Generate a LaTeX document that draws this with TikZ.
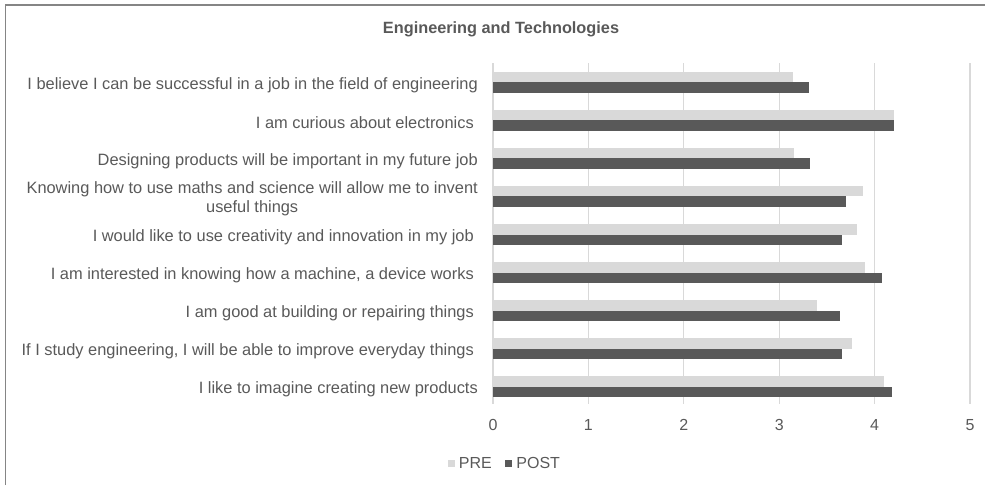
\documentclass[tikz,border=0pt]{standalone}
\usepackage{fontspec}
\setmainfont{Liberation Sans}
\usetikzlibrary{positioning}
\definecolor{pregray}{HTML}{D9D9D9}
\definecolor{postgray}{HTML}{595959}
\definecolor{gridgray}{HTML}{D9D9D9}
\definecolor{txtgray}{HTML}{595959}
\definecolor{framegray}{HTML}{858585}
\begin{document}
\begin{tikzpicture}[x=1pt,y=-1pt,
  lbl/.style={anchor=east,inner sep=0pt,text=txtgray,font=\fontsize{16.4}{19}\selectfont,align=center},
  tick/.style={inner sep=0pt,text=txtgray,font=\fontsize{16}{19}\selectfont},
  legsq/.style={inner sep=0pt,minimum size=7pt},
  pre/.style={fill=pregray},
  post/.style={fill=postgray}]
\useasboundingbox (0,0) rectangle (985,485);
\draw[framegray,line width=1.5pt] (5.5,485) -- (5.5,5) -- (985,5);
\node[text=txtgray,font=\fontsize{16.3}{19}\selectfont\bfseries] (title) at (501,29) {Engineering and Technologies};
% grid
\begin{scope}[shift={(493,0)},x=95.4pt]
\draw[gridgray,line width=1.2pt] (0,63) -- (0,404);
\draw[gridgray,line width=1.2pt] (1,63) -- (1,404);
\draw[gridgray,line width=1.2pt] (2,63) -- (2,404);
\draw[gridgray,line width=1.2pt] (3,63) -- (3,404);
\draw[gridgray,line width=1.2pt] (4,63) -- (4,404);
\draw[gridgray,line width=1.2pt] (5,63) -- (5,404);
\node[tick] (t0) at (0,425) {0};
\node[tick] (t1) at (1,425) {1};
\node[tick] (t2) at (2,425) {2};
\node[tick] (t3) at (3,425) {3};
\node[tick] (t4) at (4,425) {4};
\node[tick] (t5) at (5,425) {5};
% bars
\fill[pre] (0,71.8) rectangle (3.14,82.3);
\fill[post] (0,82.3) rectangle (3.31,92.8);
\fill[pre] (0,109.85) rectangle (4.20,120.35);
\fill[post] (0,120.35) rectangle (4.20,130.85);
\fill[pre] (0,147.9) rectangle (3.16,158.4);
\fill[post] (0,158.4) rectangle (3.32,168.9);
\fill[pre] (0,185.95) rectangle (3.88,196.45);
\fill[post] (0,196.45) rectangle (3.70,206.95);
\fill[pre] (0,224) rectangle (3.82,234.5);
\fill[post] (0,234.5) rectangle (3.66,245);
\fill[pre] (0,262.05) rectangle (3.90,272.55);
\fill[post] (0,272.55) rectangle (4.08,283.05);
\fill[pre] (0,300.1) rectangle (3.40,310.6);
\fill[post] (0,310.6) rectangle (3.64,321.1);
\fill[pre] (0,338.15) rectangle (3.76,348.65);
\fill[post] (0,348.65) rectangle (3.66,359.15);
\fill[pre] (0,376.2) rectangle (4.10,386.7);
\fill[post] (0,386.7) rectangle (4.18,397.2);
\end{scope}
% labels
\node[lbl] (q1) at (478,84.8) {I believe I can be successful in a job in the field of engineering};
\node[lbl] (q2) at (474,122.85) {I am curious about electronics};
\node[lbl] (q3) at (478,160.9) {Designing products will be important in my future job};
\node[lbl] (q4) at (478,198.45) {Knowing how to use maths and science will allow me to invent\\useful things};
\node[lbl] (q5) at (474,237) {I would like to use creativity and innovation in my job};
\node[lbl] (q6) at (474,275.05) {I am interested in knowing how a machine, a device works};
\node[lbl] (q7) at (474,313.1) {I am good at building or repairing things};
\node[lbl] (q8) at (474,351.15) {If I study engineering, I will be able to improve everyday things};
\node[lbl] (q9) at (478,389.2) {I like to imagine creating new products};
% legend
\node[legsq,pre] (prekey) at (451,463) {};
\node[tick,right=4pt of prekey] (pretext) {PRE};
\node[legsq,post] (postkey) at (508.5,463) {};
\node[tick,right=4pt of postkey] (posttext) {POST};
\end{tikzpicture}
\end{document}
